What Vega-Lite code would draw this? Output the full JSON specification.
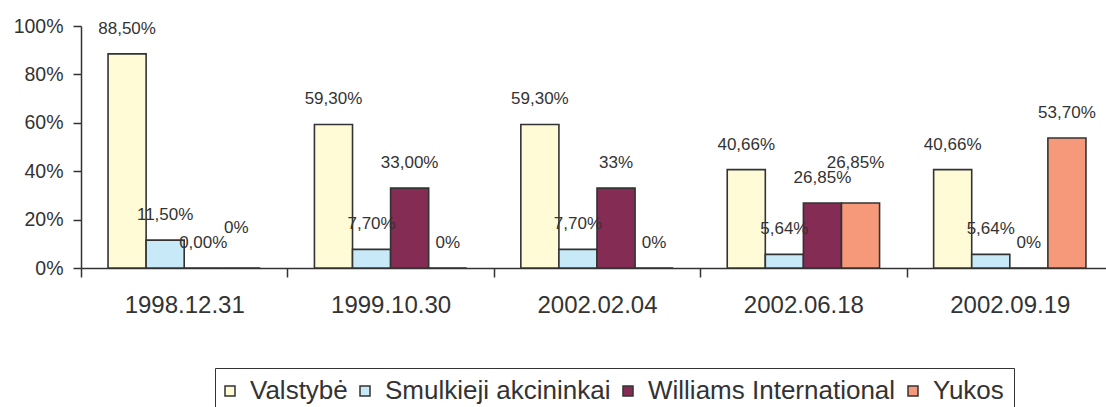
{
  "$schema": "https://vega.github.io/schema/vega-lite/v6.json",
  "autosize": {"type": "none"},
  "width": 1025,
  "height": 242,
  "padding": {"left": 81, "top": 26, "right": 0, "bottom": 139},
  "background": "white",
  "config": {
    "view": {"stroke": null},
    "font": "Liberation Sans",
    "text": {"font": "Liberation Sans"}
  },
  "data": {
    "values": [
      {"date": "1998.12.31", "series": "Valstybė", "value": 88.5, "label": "88,50%"},
      {"date": "1998.12.31", "series": "Smulkieji akcininkai", "value": 11.5, "label": "11,50%"},
      {"date": "1998.12.31", "series": "Williams International", "value": 0, "label": "0,00%"},
      {"date": "1998.12.31", "series": "Yukos", "value": 0, "label": "0%"},
      {"date": "1999.10.30", "series": "Valstybė", "value": 59.3, "label": "59,30%"},
      {"date": "1999.10.30", "series": "Smulkieji akcininkai", "value": 7.7, "label": "7,70%"},
      {"date": "1999.10.30", "series": "Williams International", "value": 33, "label": "33,00%"},
      {"date": "1999.10.30", "series": "Yukos", "value": 0, "label": "0%"},
      {"date": "2002.02.04", "series": "Valstybė", "value": 59.3, "label": "59,30%"},
      {"date": "2002.02.04", "series": "Smulkieji akcininkai", "value": 7.7, "label": "7,70%"},
      {"date": "2002.02.04", "series": "Williams International", "value": 33, "label": "33%"},
      {"date": "2002.02.04", "series": "Yukos", "value": 0, "label": "0%"},
      {"date": "2002.06.18", "series": "Valstybė", "value": 40.66, "label": "40,66%"},
      {"date": "2002.06.18", "series": "Smulkieji akcininkai", "value": 5.64, "label": "5,64%"},
      {"date": "2002.06.18", "series": "Williams International", "value": 26.85, "label": "26,85%"},
      {"date": "2002.06.18", "series": "Yukos", "value": 26.85, "label": "26,85%"},
      {"date": "2002.09.19", "series": "Valstybė", "value": 40.66, "label": "40,66%"},
      {"date": "2002.09.19", "series": "Smulkieji akcininkai", "value": 5.64, "label": "5,64%"},
      {"date": "2002.09.19", "series": "Williams International", "value": 0, "label": "0%"},
      {"date": "2002.09.19", "series": "Yukos", "value": 53.7, "label": "53,70%"}
    ]
  },
  "encoding": {
    "x": {
      "field": "date", "type": "nominal", "sort": null,
      "scale": {"paddingInner": 0, "paddingOuter": 0, "range": [0, 1032]},
      "axis": {
        "title": null, "labelAngle": 0, "tickBand": "extent",
        "labelFontSize": 24, "labelColor": "#333333", "labelPadding": 16,
        "tickSize": 9, "tickColor": "#333333", "tickWidth": 1.5,
        "domainColor": "#333333", "domainWidth": 1.5
      }
    },
    "xOffset": {
      "field": "series", "type": "nominal",
      "scale": {"domain": ["Valstybė", "Smulkieji akcininkai", "Williams International", "Yukos"], "paddingInner": 0, "paddingOuter": 0.71}
    },
    "y": {
      "field": "value", "type": "quantitative",
      "scale": {"domain": [0, 100], "nice": false},
      "axis": {
        "title": null, "values": [0, 20, 40, 60, 80, 100],
        "labelExpr": "datum.value + '%'", "grid": false,
        "labelFontSize": 19.5, "labelColor": "#333333", "labelPadding": 10,
        "tickSize": 8, "tickColor": "#333333", "tickWidth": 1.5,
        "domainColor": "#333333", "domainWidth": 1.5
      }
    }
  },
  "layer": [
    {
      "mark": {"type": "bar", "stroke": "#333333", "strokeWidth": 1.6},
      "encoding": {
        "color": {
          "field": "series", "type": "nominal",
          "scale": {
            "domain": ["Valstybė", "Smulkieji akcininkai", "Williams International", "Yukos"],
            "range": ["#FFFBD7", "#C8EAF8", "#842C53", "#F5997A"]
          },
          "legend": {
            "title": null, "orient": "none", "legendX": 134, "legendY": 342,
            "direction": "horizontal", "columns": 4,
            "strokeColor": "#333333", "padding": 10,
            "symbolType": "square", "symbolSize": 100, "symbolOffset": -8,
            "symbolStrokeColor": "#333333", "symbolStrokeWidth": 1.5,
            "labelFontSize": 26, "labelColor": "#333333", "labelOffset": 7,
            "columnPadding": 9, "labelLimit": 500
          }
        }
      }
    },
    {
      "transform": [{"filter": "!(datum.series == 'Yukos' && (datum.date == '1998.12.31' || datum.date == '2002.06.18'))"}],
      "mark": {"type": "text", "dy": -25, "baseline": "middle", "align": "center", "fontSize": 17, "color": "#333333"},
      "encoding": {
        "text": {"field": "label", "type": "nominal"}
      }
    },
    {
      "transform": [{"filter": "datum.series == 'Yukos' && (datum.date == '1998.12.31' || datum.date == '2002.06.18')"}],
      "mark": {"type": "text", "dy": -40, "dx": -5, "baseline": "middle", "align": "center", "fontSize": 17, "color": "#333333"},
      "encoding": {
        "text": {"field": "label", "type": "nominal"}
      }
    }
  ]
}
